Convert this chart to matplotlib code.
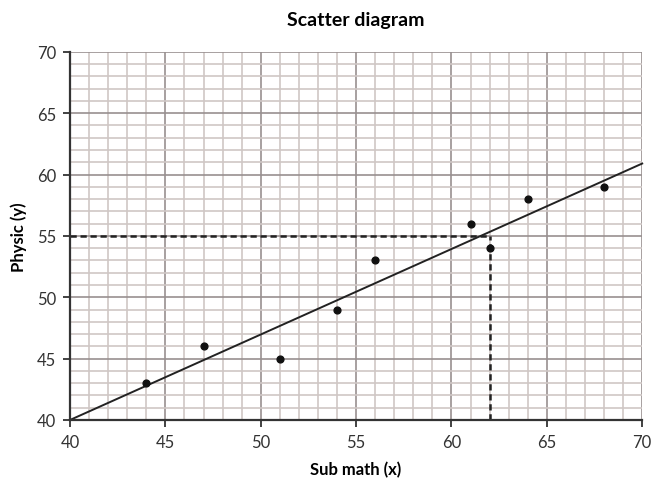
import matplotlib.pyplot as plt
import numpy as np

plt.rcParams['font.family'] = ['Lato', 'DejaVu Sans']

# data
math_x = [44, 47, 51, 54, 56, 61, 62, 64, 68]
phys_y = [43, 46, 45, 49, 53, 56, 54, 58, 59]
line_x = [40, 70]
line_y = [40, 60.9]
read_x = 62
read_y = 55

fig = plt.figure(figsize=(6.51, 4.85), dpi=100)
ax = fig.add_axes([0.1075, 0.132, 0.879, 0.759])

ax.set_xlim(40, 70)
ax.set_ylim(40, 70)
ax.set_xticks(np.arange(40, 71, 5))
ax.set_yticks(np.arange(40, 71, 5))
ax.set_xticks(np.arange(40, 71, 1), minor=True)
ax.set_yticks(np.arange(40, 71, 1), minor=True)
ax.grid(which='minor', color='#cfc7c5', linewidth=1.2)
ax.grid(which='major', color='#989090', linewidth=1.2)
ax.set_axisbelow(True)

for s in ['top', 'right']:
    ax.spines[s].set_visible(False)
for s in ['left', 'bottom']:
    ax.spines[s].set_color('#333333')
    ax.spines[s].set_linewidth(1.6)
ax.tick_params(which='major', length=5, width=1.3, color='#333333',
               labelsize=12, labelcolor='#333333', pad=5)
ax.tick_params(which='minor', length=0)

# 回归线和读数虚线
ax.plot(line_x, line_y, color='#222222', linewidth=1.4, clip_on=False)
ax.plot([40, read_x], [read_y, read_y], color='#222222', linestyle=(0, (2.5, 1.5)), linewidth=1.8)
ax.plot([read_x, read_x], [40, read_y], color='#222222', linestyle=(0, (2.5, 1.5)), linewidth=1.8)

ax.scatter(math_x, phys_y, s=24, color='#111111', zorder=3)

ax.set_title('Scatter diagram', fontsize=14, fontweight='bold', pad=19)
ax.set_xlabel('Sub math (x)', fontsize=12, fontweight='bold', labelpad=8)
ax.set_ylabel('Physic (y)', fontsize=12, fontweight='bold', labelpad=7)

fig.savefig('out.png', dpi=100)
